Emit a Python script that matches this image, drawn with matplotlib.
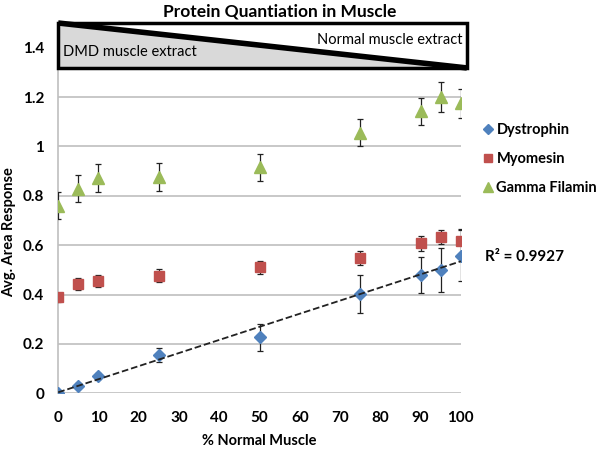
import numpy as np
import matplotlib
matplotlib.use("Agg")
import matplotlib.pyplot as plt
from matplotlib.patches import Polygon, Rectangle
from matplotlib.lines import Line2D

plt.rcParams['font.family'] = ['Lato', 'DejaVu Sans']

# data
pct_normal = [0, 5, 10, 25, 50, 75, 90, 95, 100]
dystrophin = [0.0, 0.03, 0.07, 0.155, 0.227, 0.403, 0.48, 0.50, 0.558]
dystrophin_err = [0.005, 0.01, 0.012, 0.03, 0.055, 0.078, 0.072, 0.09, 0.105]
myomesin = [0.388, 0.443, 0.454, 0.476, 0.51, 0.548, 0.608, 0.633, 0.615]
myomesin_err = [0.02, 0.025, 0.025, 0.027, 0.027, 0.027, 0.03, 0.027, 0.05]
gamma_filamin = [0.76, 0.828, 0.872, 0.876, 0.915, 1.055, 1.143, 1.20, 1.174]
gamma_err = [0.055, 0.055, 0.057, 0.057, 0.055, 0.055, 0.055, 0.06, 0.06]
r2_text = 'R² = 0.9927'
yticks = [0, 0.2, 0.4, 0.6, 0.8, 1.0, 1.2, 1.4]
ytick_labels = ["0", "0.2", "0.4", "0.6", "0.8", "1", "1.2", "1.4"]
xticks = [0, 10, 20, 30, 40, 50, 60, 70, 80, 90, 100]

fig = plt.figure(figsize=(6, 4.51), dpi=100)
ax = fig.add_axes([0.097, 0.128, 0.671, 0.821])

ax.set_xlim(0, 100)
ax.set_ylim(0, 1.5)
ax.set_yticks(yticks)
ax.set_yticklabels(ytick_labels)
ax.set_xticks(xticks)
ax.tick_params(axis='y', length=0, labelsize=11, pad=10)
ax.tick_params(axis='x', length=0, labelsize=11, pad=13)
for lab in ax.get_xticklabels() + ax.get_yticklabels():
    lab.set_fontweight('bold')
ax.grid(axis='y', color='#bfbfbf', lw=1.2)
ax.set_axisbelow(True)
for s in ['top', 'right', 'bottom']:
    ax.spines[s].set_visible(False)
ax.spines['left'].set_color('#bfbfbf')
ax.spines['left'].set_linewidth(1.2)

ekw = dict(ecolor='#222222', elinewidth=0.9, capsize=2.5, capthick=0.9, ls='none', zorder=3)
ax.errorbar(pct_normal, gamma_filamin, yerr=gamma_err, marker='^', ms=9,
            color='#9BBB59', **ekw)
ax.errorbar(pct_normal, myomesin, yerr=myomesin_err, marker='s', ms=6.5,
            color='#C0504D', **ekw)
ax.errorbar(pct_normal, dystrophin, yerr=dystrophin_err, marker='D', ms=6.5,
            color='#4F81BD', **ekw)

# linear trendline for dystrophin
slope, intercept = np.polyfit(pct_normal, dystrophin, 1)
xs = np.array([0, 100])
ax.plot(xs, slope * xs + intercept, color='#222222', ls='--', lw=1.3, zorder=4)

# gradient box at top
bx0, bx1, by0, by1 = 0, 101.5, 1.318, 1.5
ax.add_patch(Polygon([[bx0, by1], [bx0, by0], [bx1, by0]], closed=True,
                     facecolor='#d9d9d9', edgecolor='none', zorder=5, clip_on=False))
ax.add_patch(Polygon([[bx1, by1], [bx0, by1], [bx1, by0]], closed=True,
                     facecolor='white', edgecolor='none', zorder=5, clip_on=False))
ax.plot([bx0, bx1], [by1, by0], color='black', lw=4, zorder=6, clip_on=False,
        solid_capstyle='butt')
ax.add_patch(Rectangle((bx0, by0), bx1 - bx0, by1 - by0, fill=False, edgecolor='black',
                       lw=2.5, zorder=7, clip_on=False))
ax.text(1.2, 1.383, 'DMD muscle extract', fontsize=10.5, va='center', ha='left', zorder=8)
ax.text(100.5, 1.433, 'Normal muscle extract', fontsize=10.5, va='center', ha='right', zorder=8)

ax.set_title('Protein Quantiation in Muscle', fontsize=12.5, fontweight='bold', x=0.55, pad=5)
ax.set_xlabel('% Normal Muscle', fontsize=10.5, fontweight='bold', labelpad=6)
ax.set_ylabel('Avg. Area Response', fontsize=10.5, fontweight='bold')
ax.yaxis.set_label_coords(-0.105, 0.436)

handles = [
    Line2D([], [], ls='none', marker='D', ms=5.5, color='#4F81BD'),
    Line2D([], [], ls='none', marker='s', ms=5.5, color='#C0504D'),
    Line2D([], [], ls='none', marker='^', ms=7, color='#9BBB59'),
]
labels = ['Dystrophin', 'Myomesin', 'Gamma Filamin']
fig.legend(handles, labels, loc='center left', bbox_to_anchor=(484 / 600, (451 - 159) / 451),
           frameon=False, handlelength=0.6, handletextpad=0.25, labelspacing=1.05,
           borderpad=0, borderaxespad=0, prop={'weight': 'bold', 'size': 10.5})

fig.text(485 / 600, (451 - 257) / 451, r2_text, fontsize=11, fontweight='bold', va='center')

fig.savefig('out.png', dpi=100)
